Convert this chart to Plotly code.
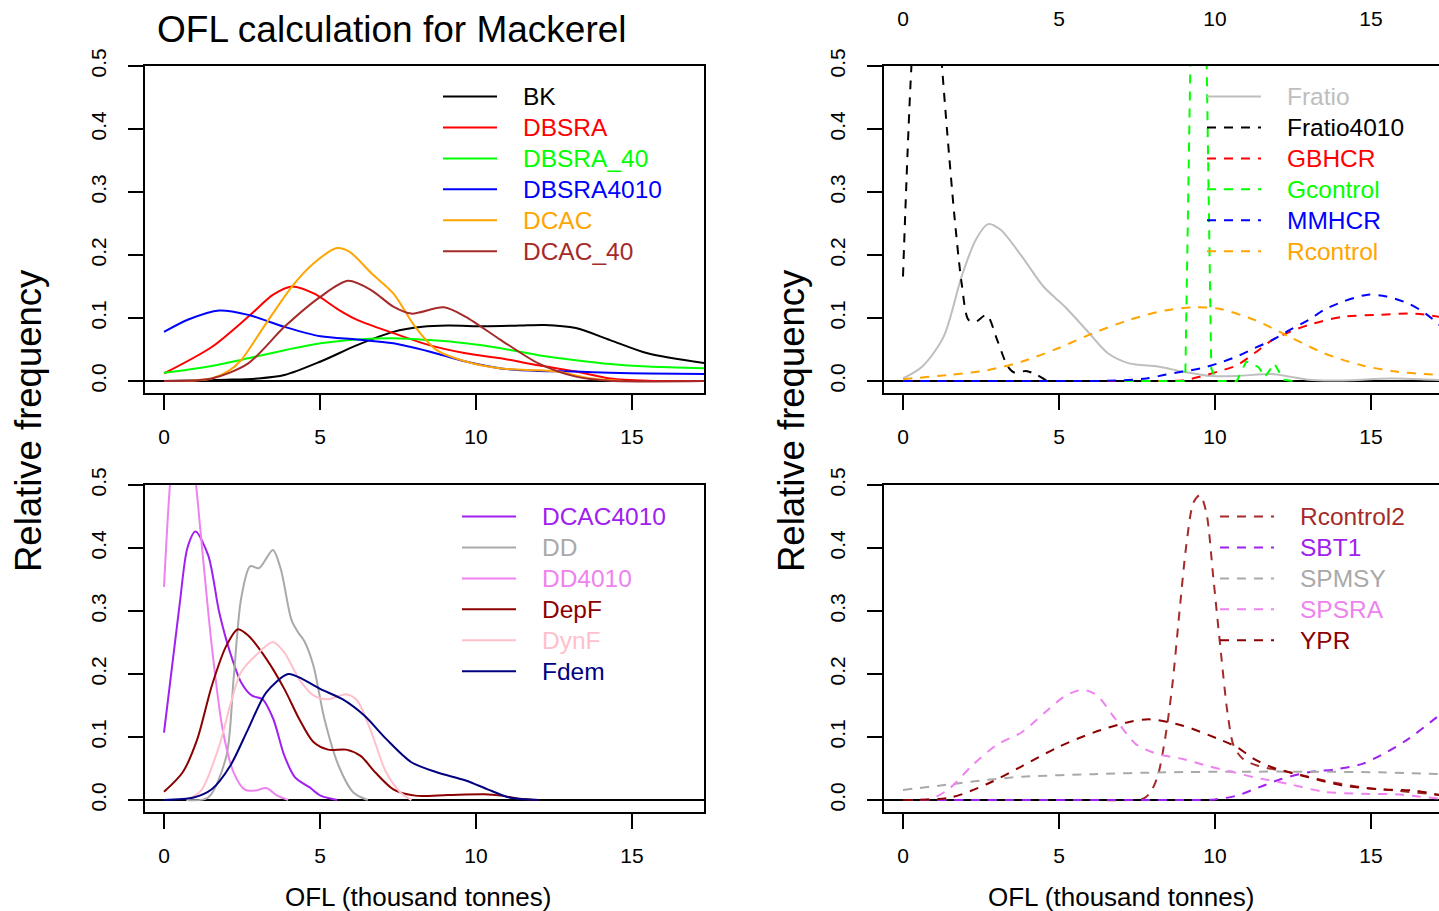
import plotly.graph_objects as go

W, H = 1439, 911
FONT = "Liberation Sans, Arial, Helvetica, sans-serif"

# ---------------- data ----------------
# Top-left panel
BK_x = [0, 2, 3, 3.86, 5.02, 6.19, 7.35, 8.28, 9.1, 10.26, 11.4, 12.2, 13.2, 14.3, 15.5, 17.4]
BK_y = [0, 0.002, 0.004, 0.0095, 0.031, 0.057, 0.078, 0.086, 0.088, 0.087, 0.088, 0.089, 0.084, 0.065, 0.044, 0.028]
DBSRA_x = [0, 1.53, 2.7, 3.5, 4.1, 4.8, 5.6, 6.19, 7.35, 8.5, 9.67, 10.8, 12.0, 13.2, 14.3, 15.5, 17.4]
DBSRA_y = [0.012, 0.054, 0.102, 0.137, 0.150, 0.139, 0.113, 0.097, 0.076, 0.057, 0.044, 0.036, 0.025, 0.015, 0.004, 0.0005, 0]
DBSRA40_x = [0, 1.53, 2.7, 3.86, 5.02, 6.19, 7.35, 8.5, 9.67, 10.8, 12.0, 13.2, 14.3, 15.5, 17.4]
DBSRA40_y = [0.013, 0.024, 0.036, 0.049, 0.060, 0.066, 0.068, 0.065, 0.060, 0.052, 0.041, 0.033, 0.027, 0.023, 0.020]
DBSRA4010_x = [0, 0.8, 1.77, 2.7, 3.86, 5.02, 6.19, 7.35, 8.5, 9.67, 10.8, 12.0, 13.2, 14.3, 15.5, 17.4]
DBSRA4010_y = [0.078, 0.098, 0.112, 0.105, 0.086, 0.071, 0.066, 0.060, 0.047, 0.031, 0.020, 0.016, 0.015, 0.013, 0.012, 0.011]
DCAC_x = [0, 1.0, 1.53, 2.1, 2.47, 3.28, 4.1, 4.8, 5.55, 5.95, 6.65, 7.35, 8.05, 8.74, 9.67, 10.8, 12.0, 12.6, 13.7, 14.7]
DCAC_y = [0, 0.001, 0.004, 0.017, 0.033, 0.092, 0.150, 0.187, 0.211, 0.205, 0.171, 0.139, 0.086, 0.049, 0.031, 0.020, 0.017, 0.015, 0.004, 0]
DCAC40_x = [0, 1.53, 2.7, 3.86, 5.02, 5.9, 6.65, 7.35, 7.93, 8.97, 9.67, 10.8, 12.0, 13.2, 14.3, 17.4]
DCAC40_y = [0, 0.004, 0.028, 0.086, 0.134, 0.159, 0.144, 0.118, 0.107, 0.117, 0.102, 0.065, 0.028, 0.007, 0.0005, 0]

# Bottom-left panel
DCAC4010_x = [0, 0.5, 0.75, 1.01, 1.42, 1.77, 2.12, 2.47, 2.81, 3.16, 3.5, 3.86, 4.2, 4.67, 5.02, 5.55]
DCAC4010_y = [0.107, 0.31, 0.40, 0.426, 0.388, 0.298, 0.234, 0.187, 0.166, 0.160, 0.129, 0.070, 0.036, 0.020, 0.007, 0]
DD_x = [0.72, 1.42, 2.0, 2.23, 2.47, 2.76, 3.05, 3.49, 3.74, 4.09, 4.3, 4.5, 4.79, 5.14, 5.6, 6.07, 6.53]
DD_y = [0, 0.004, 0.07, 0.192, 0.319, 0.371, 0.368, 0.397, 0.367, 0.285, 0.266, 0.252, 0.213, 0.129, 0.054, 0.012, 0]
DD4010_x = [0, 0.19, 0.6, 1.03, 1.53, 1.88, 2.23, 2.58, 2.93, 3.28, 3.63, 3.98]
DD4010_y = [0.338, 0.5, 0.72, 0.5, 0.245, 0.112, 0.044, 0.017, 0.015, 0.019, 0.007, 0]
DepF_x = [0, 0.6, 1.07, 1.53, 2.0, 2.37, 2.7, 3.28, 3.86, 4.33, 4.79, 5.26, 5.84, 6.3, 6.77, 7.35, 8.05, 9.1, 10.26, 10.8, 11.4, 12.0]
DepF_y = [0.013, 0.044, 0.097, 0.181, 0.245, 0.271, 0.261, 0.224, 0.176, 0.129, 0.092, 0.080, 0.080, 0.070, 0.044, 0.017, 0.007, 0.008, 0.009, 0.007, 0.002, 0]
DynF_x = [0.72, 1.19, 1.77, 2.12, 2.47, 2.93, 3.49, 3.86, 4.33, 4.79, 5.26, 5.84, 6.19, 6.65, 7.12, 7.58, 7.93]
DynF_y = [0, 0.015, 0.086, 0.150, 0.203, 0.229, 0.251, 0.234, 0.192, 0.166, 0.160, 0.168, 0.158, 0.107, 0.044, 0.012, 0]
Fdem_x = [0, 0.95, 1.53, 2.12, 2.7, 3.28, 3.98, 4.44, 5.02, 5.72, 6.42, 7.12, 7.93, 8.74, 9.67, 10.37, 11.07, 12.0]
Fdem_y = [0, 0.004, 0.017, 0.054, 0.113, 0.171, 0.200, 0.192, 0.176, 0.160, 0.134, 0.097, 0.060, 0.044, 0.031, 0.017, 0.004, 0]

# Top-right panel
Fratio_x = [0, 0.62, 1.3, 1.88, 2.33, 2.73, 3.13, 3.82, 4.5, 5.19, 5.88, 6.57, 7.25, 8.17, 8.97, 9.88, 10.7, 11.8, 12.4, 13.0, 14.1, 15.6, 16.6, 17.4]
Fratio_y = [0.004, 0.023, 0.070, 0.166, 0.224, 0.249, 0.240, 0.197, 0.150, 0.118, 0.081, 0.044, 0.028, 0.023, 0.015, 0.008, 0.008, 0.011, 0.007, 0.002, 0.001, 0.004, 0.003, 0.001]
Fratio4010_x = [0, 0.27, 0.75, 1.25, 1.42, 1.65, 1.88, 2.1, 2.33, 2.68, 3.02, 3.36, 3.59, 3.94, 4.28, 4.62]
Fratio4010_y = [0.166, 0.5, 0.85, 0.5, 0.393, 0.261, 0.155, 0.097, 0.094, 0.105, 0.065, 0.023, 0.013, 0.016, 0.010, 0]
GBHCR_x = [0, 2, 4, 6, 8, 8.97, 9.54, 10.1, 10.7, 11.26, 11.83, 12.4, 13.0, 14.1, 15.3, 16.4, 17.4]
GBHCR_y = [0, 0, 0, 0, 0, 0.001, 0.007, 0.015, 0.025, 0.044, 0.065, 0.078, 0.089, 0.102, 0.105, 0.107, 0.100]
Gcontrol_x = [7.1, 9.0, 9.05, 9.23, 9.47, 9.72, 9.88, 10.05, 10.7, 11.0, 11.4, 11.6, 11.9, 12.2, 12.5]
Gcontrol_y = [0, 0, 0.01, 0.55, 1.3, 0.55, 0.02, 0, 0, 0.031, 0.022, 0.006, 0.028, 0.002, 0]
MMHCR_x = [0, 2, 4, 6, 7.0, 7.8, 8.4, 8.97, 9.54, 10.1, 10.7, 11.26, 11.83, 12.4, 13.0, 13.5, 14.1, 14.9, 15.5, 16.2, 16.75, 17.4]
MMHCR_y = [0, 0, 0, 0, 0.001, 0.004, 0.010, 0.015, 0.020, 0.028, 0.039, 0.052, 0.065, 0.081, 0.097, 0.113, 0.126, 0.137, 0.134, 0.123, 0.107, 0.080]
Rcontrol_x = [0, 1.53, 2.68, 3.82, 4.97, 6.1, 7.25, 8.4, 9.31, 10.1, 11.26, 12.4, 13.5, 14.7, 15.8, 17.4]
Rcontrol_y = [0.003, 0.010, 0.017, 0.031, 0.052, 0.076, 0.097, 0.112, 0.117, 0.115, 0.097, 0.070, 0.044, 0.025, 0.015, 0.009]

# Bottom-right panel
Rcontrol2_x = [0, 2, 4, 6, 7.2, 7.7, 7.93, 8.17, 8.4, 8.63, 8.86, 9.08, 9.31, 9.52, 9.72, 9.95, 10.2, 10.4, 10.6, 10.9, 11.4, 12.4, 13.5, 14.7, 15.8, 17.4]
Rcontrol2_y = [0, 0, 0, 0, 0, 0.002, 0.012, 0.039, 0.097, 0.181, 0.298, 0.404, 0.472, 0.484, 0.457, 0.351, 0.229, 0.139, 0.086, 0.065, 0.054, 0.044, 0.031, 0.020, 0.015, 0.007]
SBT1_x = [0, 2, 4, 6, 8, 9.3, 10.0, 10.7, 11.4, 12.1, 13.0, 13.9, 14.7, 15.5, 16.2, 17.4]
SBT1_y = [0, 0, 0, 0, 0, 0, 0.001, 0.007, 0.020, 0.033, 0.044, 0.049, 0.057, 0.076, 0.097, 0.143]
SPMSY_x = [0, 1.53, 2.68, 3.82, 6.1, 8.4, 10.7, 13.0, 15.3, 17.4]
SPMSY_y = [0.016, 0.025, 0.032, 0.037, 0.041, 0.044, 0.045, 0.045, 0.044, 0.041]
SPSRA_x = [0, 0.96, 1.53, 2.22, 3.02, 3.82, 4.5, 5.19, 5.76, 6.22, 6.8, 7.48, 8.17, 8.97, 9.77, 10.6, 11.26, 12.4, 13.5, 14.7, 15.8, 17.2]
SPSRA_y = [0, 0.003, 0.020, 0.055, 0.088, 0.108, 0.137, 0.165, 0.175, 0.166, 0.129, 0.088, 0.073, 0.065, 0.054, 0.044, 0.036, 0.025, 0.013, 0.010, 0.009, 0.002]
YPR_x = [0, 1.53, 2.68, 3.82, 4.97, 6.1, 7.25, 7.93, 8.97, 10.1, 10.7, 11.26, 11.83, 13.0, 14.1, 15.3, 16.4, 17.4]
YPR_y = [0, 0.004, 0.025, 0.054, 0.084, 0.107, 0.124, 0.128, 0.118, 0.097, 0.084, 0.065, 0.052, 0.036, 0.023, 0.017, 0.015, 0.006]

x_ticks = [0, 5, 10, 15]
y_ticks = [0.0, 0.1, 0.2, 0.3, 0.4, 0.5]
y_ticktext = ["0.0", "0.1", "0.2", "0.3", "0.4", "0.5"]

panel_series = {
    "TL": [("BK", BK_x, BK_y), ("DBSRA", DBSRA_x, DBSRA_y), ("DBSRA_40", DBSRA40_x, DBSRA40_y),
           ("DBSRA4010", DBSRA4010_x, DBSRA4010_y), ("DCAC", DCAC_x, DCAC_y), ("DCAC_40", DCAC40_x, DCAC40_y)],
    "BL": [("DCAC4010", DCAC4010_x, DCAC4010_y), ("DD", DD_x, DD_y), ("DD4010", DD4010_x, DD4010_y),
           ("DepF", DepF_x, DepF_y), ("DynF", DynF_x, DynF_y), ("Fdem", Fdem_x, Fdem_y)],
    "TR": [("Fratio", Fratio_x, Fratio_y), ("Fratio4010", Fratio4010_x, Fratio4010_y), ("GBHCR", GBHCR_x, GBHCR_y),
           ("Gcontrol", Gcontrol_x, Gcontrol_y), ("MMHCR", MMHCR_x, MMHCR_y), ("Rcontrol", Rcontrol_x, Rcontrol_y)],
    "BR": [("Rcontrol2", Rcontrol2_x, Rcontrol2_y), ("SBT1", SBT1_x, SBT1_y), ("SPMSY", SPMSY_x, SPMSY_y),
           ("SPSRA", SPSRA_x, SPSRA_y), ("YPR", YPR_x, YPR_y)],
}

# ---------------- styles ----------------
colors = {
    "BK": "#000000", "DBSRA": "#FF0000", "DBSRA_40": "#00FF00", "DBSRA4010": "#0000FF",
    "DCAC": "#FFA500", "DCAC_40": "#A52A2A",
    "DCAC4010": "#A020F0", "DD": "#A9A9A9", "DD4010": "#EE82EE", "DepF": "#8B0000",
    "DynF": "#FFC0CB", "Fdem": "#000080",
    "Fratio": "#BEBEBE", "Fratio4010": "#000000", "GBHCR": "#FF0000", "Gcontrol": "#00FF00",
    "MMHCR": "#0000FF", "Rcontrol": "#FFA500",
    "Rcontrol2": "#A52A2A", "SBT1": "#A020F0", "SPMSY": "#A9A9A9", "SPSRA": "#EE82EE", "YPR": "#8B0000",
}
panel_axes = {"TL": ("x", "y", "legend"), "BL": ("x3", "y3", "legend3"),
              "TR": ("x2", "y2", "legend2"), "BR": ("x4", "y4", "legend4")}
dashed = {"TL": False, "BL": False, "TR": True, "BR": True}
GAP = '&nbsp;&nbsp;&nbsp;<span style="font-size:11px">&nbsp;</span>'

fig = go.Figure()
for p, series in panel_series.items():
    xa, ya, lg = panel_axes[p]
    for name, xs, ys in series:
        c = colors[name]
        dash = "solid"
        if dashed[p] and name != "Fratio":
            dash = "9px,8px"
        shape = "linear" if name == "Gcontrol" else "spline"
        fig.add_trace(go.Scatter(
            x=xs, y=ys, mode="lines", xaxis=xa, yaxis=ya, legend=lg,
            name=f'{GAP}<span style="color:{c};font-size:24.5px">{name}</span>',
            line=dict(color=c, width=2, dash=dash, shape=shape, smoothing=0.8),
            hoverinfo="skip",
        ))

L_DOM = [145 / W, 704 / W]
R_DOM = [884 / W, 1.0]
T_DOM = [1 - 393 / H, 1 - 66 / H]
B_DOM = [1 - 812 / H, 1 - 485 / H]
L_RANGE = [-0.609, 17.308]
R_RANGE = [-0.609, 17.18]
Y_RANGE = [-0.019, 0.5]

def xax(dom, rng, anchor):
    return dict(domain=dom, range=rng, anchor=anchor, tickvals=x_ticks, ticks="outside",
                ticklen=15, tickwidth=2, tickcolor="black", showline=True, linewidth=2,
                linecolor="black", mirror=True, showgrid=False, zeroline=False, automargin=False,
                tickfont=dict(size=21, color="black", family=FONT), ticklabelstandoff=9)

def yax(dom, anchor, mirror):
    return dict(domain=dom, range=Y_RANGE, anchor=anchor, tickvals=y_ticks, ticktext=y_ticktext,
                ticks="outside", ticklen=15, tickwidth=2, tickcolor="black", tickangle=-90,
                showline=True, linewidth=2, linecolor="black", mirror=mirror, showgrid=False,
                zeroline=True, zerolinecolor="black", zerolinewidth=2, automargin=False,
                tickfont=dict(size=21, color="black", family=FONT), ticklabelstandoff=14)

def leg(x_px, y_px):
    return dict(x=x_px / W, y=1 - y_px / H, xanchor="left", yanchor="top",
                bgcolor="rgba(0,0,0,0)", borderwidth=0, itemwidth=54,
                font=dict(size=21.5, family=FONT), traceorder="normal",
                itemclick=False, itemdoubleclick=False)

fig.update_layout(
    template="none",
    width=W, height=H, margin=dict(l=0, r=0, t=0, b=0, pad=0),
    paper_bgcolor="white", plot_bgcolor="white",
    font=dict(family=FONT, color="black"),
    xaxis=xax(L_DOM, L_RANGE, "y"), yaxis=yax(T_DOM, "x", True),
    xaxis2=xax(R_DOM, R_RANGE, "y2"), yaxis2=yax(T_DOM, "x2", False),
    xaxis3=xax(L_DOM, L_RANGE, "y3"), yaxis3=yax(B_DOM, "x3", True),
    xaxis4=xax(R_DOM, R_RANGE, "y4"), yaxis4=yax(B_DOM, "x4", False),
    xaxis5=dict(overlaying="x2", matches="x2", anchor="y2", side="top", range=R_RANGE,
                tickvals=x_ticks, ticks="outside", ticklen=15, tickcolor="rgba(0,0,0,0)",
                showline=False, showgrid=False, zeroline=False, automargin=False,
                tickfont=dict(size=21, color="black", family=FONT), ticklabelstandoff=16),
    legend=leg(438, 76), legend2=leg(1202, 76), legend3=leg(457, 496), legend4=leg(1215, 496),
    showlegend=True,
)
# empty trace so the top axis of the top-right panel is rendered
fig.add_trace(go.Scatter(x=[None], y=[None], xaxis="x5", yaxis="y2", showlegend=False, hoverinfo="skip"))

anns = [
    dict(text="OFL calculation for Mackerel", x=392 / W, y=1 - 29 / H, size=37, angle=0),
    dict(text="Relative frequency", x=28 / W, y=1 - 421 / H, size=36.5, angle=-90),
    dict(text="Relative frequency", x=791 / W, y=1 - 421 / H, size=36.5, angle=-90),
    dict(text="OFL (thousand tonnes)", x=418 / W, y=1 - 897 / H, size=26, angle=0),
    dict(text="OFL (thousand tonnes)", x=1121 / W, y=1 - 897 / H, size=26, angle=0),
]
for a in anns:
    fig.add_annotation(text=a["text"], x=a["x"], y=a["y"], xref="paper", yref="paper",
                       xanchor="center", yanchor="middle", showarrow=False, textangle=a["angle"],
                       font=dict(size=a["size"], color="black", family=FONT))

fig.write_html("out.html")
